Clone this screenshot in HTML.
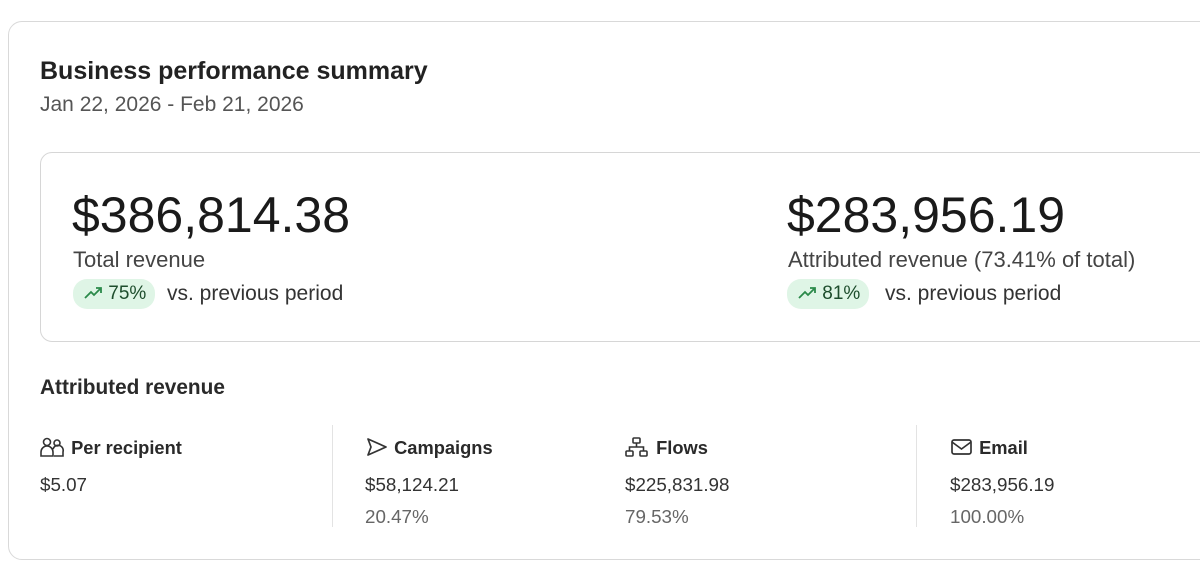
<!DOCTYPE html>
<html><head><style>
body{margin:0;width:1200px;height:573px;background:#fff;font-family:"Liberation Sans",sans-serif;color:#1f1f1f;position:relative;overflow:hidden}
.a{position:absolute;white-space:nowrap}
.card{position:absolute;left:8px;top:21px;width:1250px;height:537px;border:1px solid #d9d9d9;border-radius:14px}
.inner{position:absolute;left:40px;top:152px;width:1220px;height:188px;border:1px solid #d6d6d6;border-radius:12px}
.big{font-size:50px;color:#1a1a1a}
.lab{font-size:22px;color:#444}
.pill{background:#dff5e6;border-radius:14px;height:30px;font-size:19px;color:#1d4d2c;line-height:30px;padding:0 9px 0 10px}
.vs{font-size:21px;color:#333}
.h{font-size:18.3px;font-weight:bold;color:#2a2a2a}
.v{font-size:18.8px;color:#333}
.p{font-size:18.8px;color:#666}
.sep{position:absolute;width:1px;background:#e3e3e3;top:425px;height:102px}
</style></head><body>
<div class="card"></div>
<div class="a" style="left:40px;top:57px;font-size:25px;font-weight:bold;color:#222">Business performance summary</div>
<div class="a" style="left:40px;top:93px;font-size:21px;color:#555">Jan 22, 2026 - Feb 21, 2026</div>
<div class="inner"></div>
<div class="a big" style="left:72px;top:186px">$386,814.38</div>
<div class="a lab" style="left:73px;top:247px">Total revenue</div>
<div class="a pill" style="left:73px;top:279px"><svg width="20" height="14" viewBox="0 0 20 14" style="vertical-align:-1px"><path d="M2 12 L8 6 L11 9 L17 3 M13 2 H18 V7" fill="none" stroke="#2b8a4a" stroke-width="1.8"/></svg> 75%</div>
<div class="a vs" style="left:167px;top:282px">vs. previous period</div>
<div class="a big" style="left:787px;top:186px">$283,956.19</div>
<div class="a lab" style="left:788px;top:247px">Attributed revenue (73.41% of total)</div>
<div class="a pill" style="left:787px;top:279px"><svg width="20" height="14" viewBox="0 0 20 14" style="vertical-align:-1px"><path d="M2 12 L8 6 L11 9 L17 3 M13 2 H18 V7" fill="none" stroke="#2b8a4a" stroke-width="1.8"/></svg> 81%</div>
<div class="a vs" style="left:885px;top:282px">vs. previous period</div>
<div class="a" style="left:40px;top:376px;font-size:20.8px;font-weight:bold;color:#2a2a2a">Attributed revenue</div>
<div class="sep" style="left:332px"></div>
<div class="sep" style="left:916px"></div>
<div class="a h" style="left:40px;top:437px"><svg width="26" height="20" viewBox="0 0 26 20" style="vertical-align:-3px"><g fill="none" stroke="#333" stroke-width="1.6"><circle cx="7" cy="5" r="3.5"/><circle cx="17" cy="6" r="3"/><path d="M1 19 V15 A6 6 0 0 1 13 15 V19 Z M14 19 H23 V15 A5 5 0 0 0 13 12"/></g></svg> Per recipient</div>
<div class="a v" style="left:40px;top:474px">$5.07</div>
<div class="a h" style="left:365px;top:437px"><svg width="24" height="20" viewBox="0 0 24 20" style="vertical-align:-3px"><path d="M3 2 L21 10 L3 18 L6 10 Z" fill="none" stroke="#333" stroke-width="1.7" stroke-linejoin="round"/></svg> Campaigns</div>
<div class="a v" style="left:365px;top:474px">$58,124.21</div>
<div class="a p" style="left:365px;top:506px">20.47%</div>
<div class="a h" style="left:625px;top:437px"><svg width="26" height="20" viewBox="0 0 26 20" style="vertical-align:-3px"><g fill="none" stroke="#333" stroke-width="1.6"><rect x="8" y="1" width="7" height="5" rx="1"/><rect x="1" y="14" width="7" height="5" rx="1"/><rect x="15" y="14" width="7" height="5" rx="1"/><path d="M11.5 6 V10 M4.5 14 V10 H18.5 V14"/></g></svg> Flows</div>
<div class="a v" style="left:625px;top:474px">$225,831.98</div>
<div class="a p" style="left:625px;top:506px">79.53%</div>
<div class="a h" style="left:950px;top:437px"><svg width="24" height="20" viewBox="0 0 24 20" style="vertical-align:-3px"><g fill="none" stroke="#333" stroke-width="1.7"><rect x="2" y="3" width="19" height="14" rx="2"/><path d="M2 5 L11.5 12 L21 5"/></g></svg> Email</div>
<div class="a v" style="left:950px;top:474px">$283,956.19</div>
<div class="a p" style="left:950px;top:506px">100.00%</div>
</body></html>
